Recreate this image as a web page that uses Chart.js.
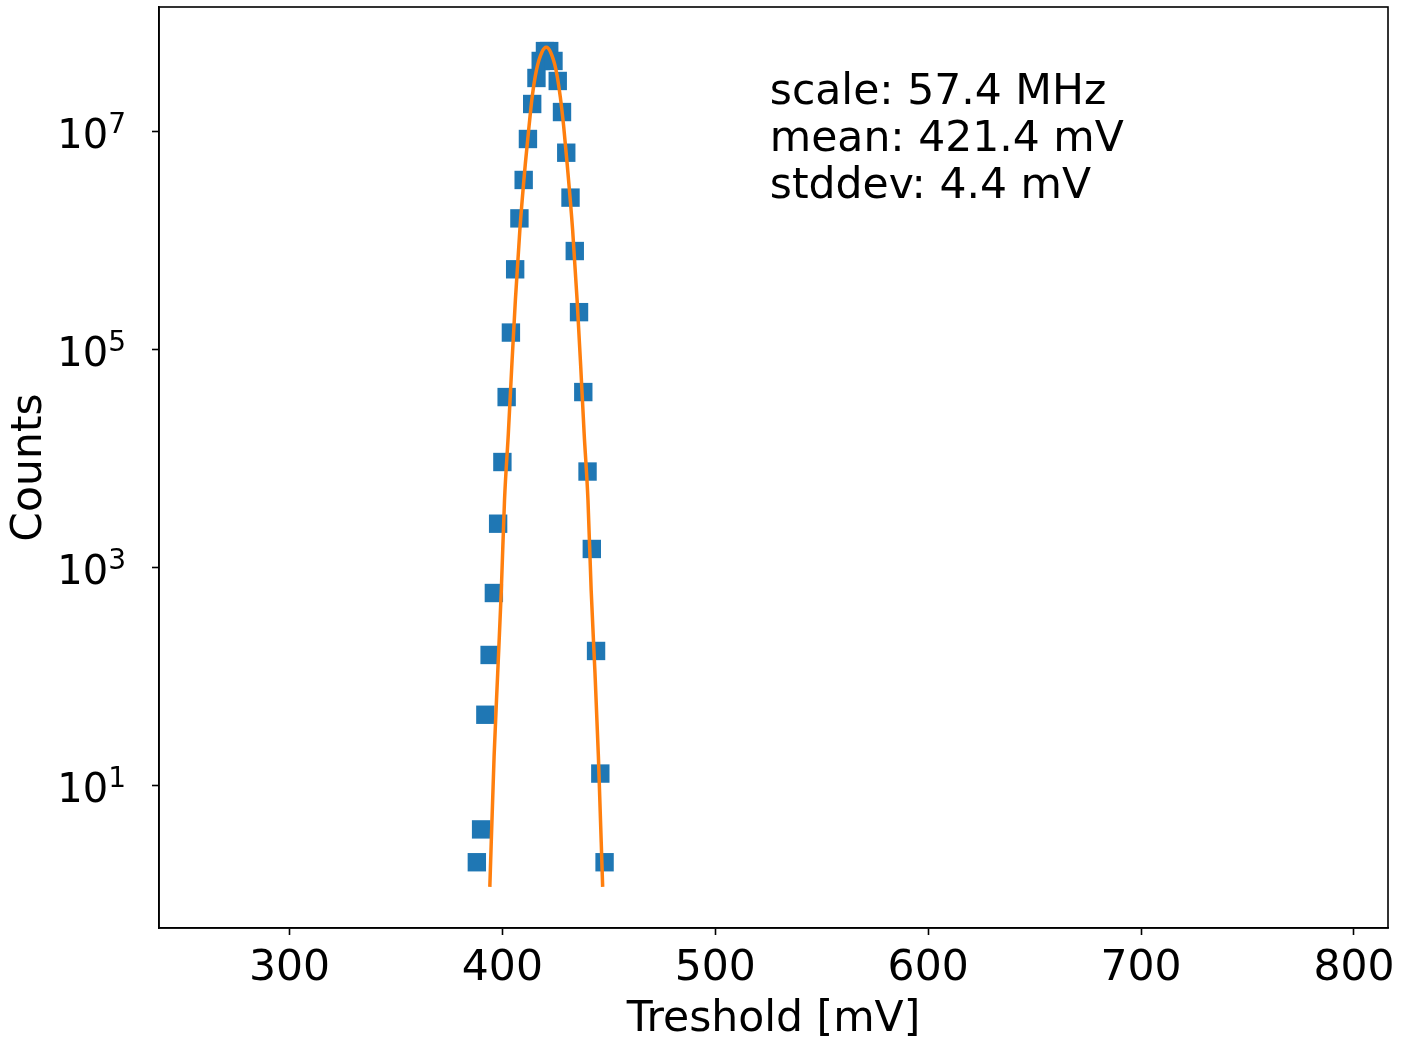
<!DOCTYPE html>
<html>
<head>
<meta charset="UTF-8">
<title>Treshold scan</title>
<script src="https://cdn.jsdelivr.net/npm/chart.js@4.4.1/dist/chart.umd.min.js"></script>
<style>
  body { margin: 0; background: #fff; }
  #myChart { display: block; }
</style>
</head>
<body>
<canvas id="myChart" width="1409" height="1047"></canvas>
<script>
// measured points (treshold in mV, counts)
var thresholdMv = [388, 390, 392, 394, 396, 398, 400, 402, 404, 406, 408, 410, 412, 414, 416, 418,
                   420, 422, 424, 426, 428, 430, 432, 434, 436, 438, 440, 442, 444, 446, 448];
var counts = [2, 4, 45, 159, 588, 2540, 9340, 36800, 143600, 546000, 1.6e6, 3.6e6, 8.55e6, 1.79e7, 3.1e7, 4.44e7,
              5.47e7, 5.47e7, 4.44e7, 2.91e7, 1.51e7, 6.4e6, 2.48e6, 8.03e5, 2.21e5, 40900, 7640, 1490, 173, 13, 2];

// gaussian fit curve
var fitMv = [394.1, 396.1, 397.8, 399.5, 401.0, 402.8, 404.4, 406.1, 408.2, 410.8, 412.5, 414.0, 416.0, 418.6,
             420.6, 422.6, 425.2, 427.2, 428.8, 430.4, 433.0, 435.1, 436.8, 438.4, 440.2, 441.7, 443.5, 445.1, 447.1];
var fitCounts = [1.19, 18.6, 108, 627, 4190, 17100, 69800, 285000, 1.25e6, 5.12e6, 1.11e7, 2.08e7, 3.66e7, 5.36e7,
                 5.92e7, 5.36e7, 3.66e7, 2.08e7, 1.11e7, 5.12e6, 1.25e6, 285000, 69800, 17100, 4190, 627, 108, 18.6, 1.19];

var xTicks = [300, 400, 500, 600, 700, 800];
var yTicks = [1e1, 1e3, 1e5, 1e7];
var fitText = ['scale: 57.4 MHz', 'mean: 421.4 mV', 'stddev: 4.4 mV'];

var FONT = 'DejaVu Sans';
var FS = 42.5;

// frame, text box and 10^n labels (drawn like mathtext)
var frame = {
  id: 'frame',
  afterDatasetsDraw: function(chart) {
    var a = chart.chartArea, ctx = chart.ctx;
    ctx.save();
    ctx.strokeStyle = '#000';
    ctx.lineWidth = 1.6;
    ctx.strokeRect(a.left, a.top, a.right - a.left, a.bottom - a.top);
    ctx.fillStyle = '#000';
    ctx.font = FS + 'px "' + FONT + '"';
    ctx.textAlign = 'left';
    ctx.textBaseline = 'middle';
    var x = a.left + 0.497 * (a.right - a.left);
    for (var i = 0; i < fitText.length; i++) {
      ctx.fillText(fitText[i], x, a.top + 86 + i * 47);
    }

    // y tick labels
    var ys = chart.scales.y;
    var right = a.left - 33;
    ctx.textAlign = 'right';
    ctx.textBaseline = 'alphabetic';
    yTicks.forEach(function(v) {
      var py = ys.getPixelForValue(v);
      var base = py + 16;
      var e = String(Math.round(Math.log10(v)));
      ctx.font = '28px "' + FONT + '"';
      var ew = ctx.measureText(e).width;
      ctx.fillText(e, right, base - 15);
      ctx.font = '40px "' + FONT + '"';
      ctx.fillText('10', right - ew, base);
    });
    ctx.restore();
  }
};

var ctx = document.getElementById('myChart').getContext('2d');
var chart = new Chart(ctx, {
  type: 'scatter',
  data: {
    datasets: [
      {
        label: 'fit',
        data: fitMv.map(function(v, i) { return {x: v, y: fitCounts[i]}; }),
        showLine: true,
        borderColor: '#ff7f0e',
        borderWidth: 3.5,
        pointRadius: 0,
        cubicInterpolationMode: 'monotone',
        order: 0
      },
      {
        label: 'data',
        data: thresholdMv.map(function(v, i) { return {x: v, y: counts[i]}; }),
        pointStyle: 'rect',
        pointRadius: 13,
        pointBackgroundColor: '#1f77b4',
        pointBorderWidth: 0,
        order: 1
      }
    ]
  },
  options: {
    responsive: false,
    devicePixelRatio: 1,
    animation: false,
    layout: { padding: { left: 0, right: 21, top: 7, bottom: 0 }, autoPadding: false },
    plugins: { legend: { display: false }, tooltip: { enabled: false } },
    scales: {
      x: {
        type: 'linear',
        min: 238.7,
        max: 816,
        afterBuildTicks: function(s) { s.ticks = xTicks.map(function(v) { return {value: v}; }); },
        afterFit: function(s) { s.height = 119; s.paddingLeft = 0; s.paddingRight = 0; },
        grid: { drawOnChartArea: false, tickLength: 7, tickWidth: 1.6, tickColor: '#000' },
        border: { display: true, color: '#000', width: 1.6 },
        ticks: { color: '#000', font: { family: FONT, size: FS }, padding: 8, maxRotation: 0 },
        title: { display: true, text: 'Treshold [mV]', color: '#000', font: { family: FONT, size: FS }, padding: { top: 0, bottom: 2 } }
      },
      y: {
        type: 'logarithmic',
        min: 0.499,
        max: 1.387e8,
        afterBuildTicks: function(s) { s.ticks = yTicks.map(function(v) { return {value: v}; }); },
        afterFit: function(s) { s.width = 159; s.paddingTop = 0; s.paddingBottom = 0; },
        grid: { drawOnChartArea: false, tickLength: 7, tickWidth: 1.6, tickColor: '#000' },
        border: { display: true, color: '#000', width: 1.6 },
        ticks: { display: false },
        title: { display: true, text: 'Counts', color: '#000', font: { family: FONT, size: FS }, padding: { top: 4, bottom: 0 } }
      }
    }
  },
  plugins: [frame]
});
</script>
</body>
</html>
